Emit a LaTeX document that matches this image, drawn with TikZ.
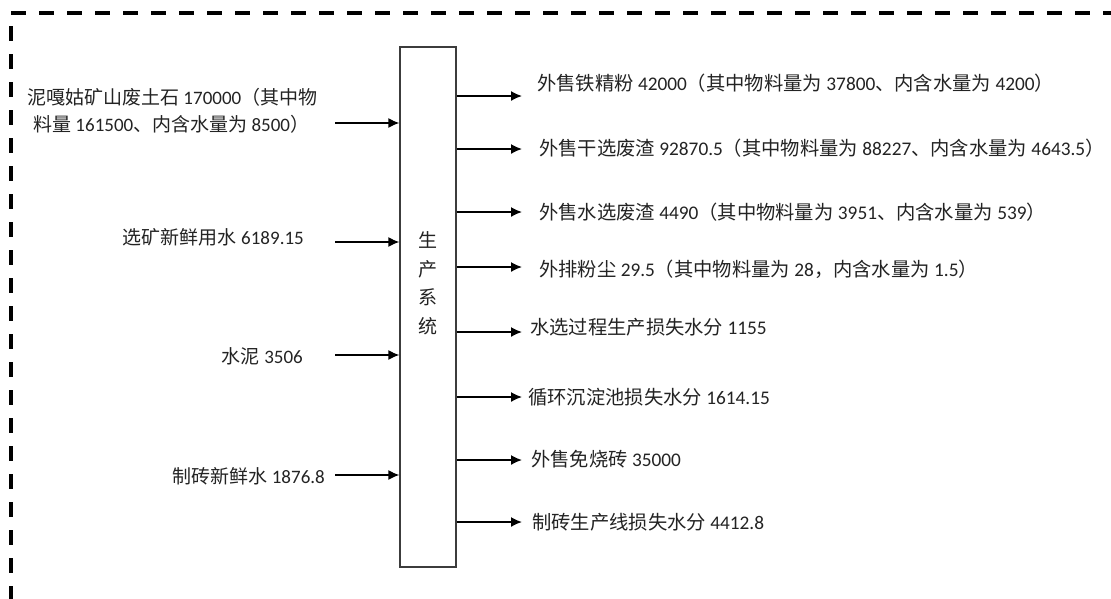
\documentclass[tikz,border=0pt]{standalone}
\usepackage{fontspec}
\setmainfont{Carlito}
\newfontfamily\cjk{Noto Sans CJK SC}
\usetikzlibrary{arrows.meta}
\newcommand{\zh}[1]{{\cjk #1}}
\definecolor{txt}{RGB}{35,35,35}
\definecolor{boxc}{RGB}{60,60,60}
\begin{document}
\begin{tikzpicture}[x=1pt,y=-1pt,
  lbl/.style={inner sep=0pt,text=txt,font=\fontsize{19}{23}\selectfont},
  rlbl/.style={lbl,font=\fontsize{19.3}{23}\selectfont},
  arr/.style={line width=1.6pt,-{Latex[length=11pt,width=10pt]}},
  border/.style={line width=3.8pt,dash pattern=on 15pt off 13pt,line cap=butt},
  sysbox/.style={draw=boxc,line width=1.2pt,minimum width=56pt,minimum height=520pt,inner sep=0pt}]
\useasboundingbox (0,0) rectangle (1111,598);
\fill[white] (0,0) rectangle (1111,598);
% dashed border
\coordinate (bt0) at (11,13);
\coordinate (bt1) at (1125,13);
\coordinate (bl0) at (11,26);
\coordinate (bl1) at (11,615);
\draw[border] (bt0) -- (bt1);
\draw[border] (bl0) -- (bl1);
% system box
\node[sysbox] (sys) at (428,307) {};
\node[lbl,align=center,font=\fontsize{19}{28.5}\selectfont\cjk] (systxt) at (428,283) {生\\产\\系\\统};
% inputs
\node[lbl,anchor=base west] (in1a) at (27,104) {\zh{泥嘎姑矿山废土石} 170000\zh{（其中物}};
\node[lbl,anchor=base west] (in1b) at (27,131) {\hspace*{6pt}\zh{料量} 161500\zh{、内含水量为} 8500\zh{）}};
\node[lbl,anchor=base east] (in2) at (304,244) {\zh{选矿新鲜用水} 6189.15};
\node[lbl,anchor=base east] (in3) at (303,363) {\zh{水泥} 3506};
\node[lbl,anchor=base east] (in4) at (325,483) {\zh{制砖新鲜水} 1876.8};
\coordinate (i1) at (335,123);
\coordinate (i2) at (335,242);
\coordinate (i3) at (335,355);
\coordinate (i4) at (335,475);
\foreach \i in {1,2,3,4}{\draw[arr] (i\i) -- (i\i -| sys.west);}
% outputs
\coordinate (o1) at (522,96);
\coordinate (o2) at (522,149);
\coordinate (o3) at (522,212);
\coordinate (o4) at (522,267);
\coordinate (o5) at (522,332);
\coordinate (o6) at (522,397);
\coordinate (o7) at (522,460);
\coordinate (o8) at (522,522);
\foreach \i in {1,...,8}{\draw[arr] (o\i -| sys.east) -- (o\i);}
\node[rlbl,anchor=base west] (out1) at (537,90) {\zh{外售铁精粉} 42000\zh{（其中物料量为} 37800\zh{、内含水量为} 4200\zh{）}};
\node[rlbl,anchor=base west] (out2) at (539,155) {\zh{外售干选废渣} 92870.5\zh{（其中物料量为} 88227\zh{、内含水量为} 4643.5\zh{）}};
\node[rlbl,anchor=base west] (out3) at (539,219) {\zh{外售水选废渣} 4490\zh{（其中物料量为} 3951\zh{、内含水量为} 539\zh{）}};
\node[rlbl,anchor=base west] (out4) at (539,276) {\zh{外排粉尘} 29.5\zh{（其中物料量为} 28\zh{，内含水量为} 1.5\zh{）}};
\node[rlbl,anchor=base west] (out5) at (530,334) {\zh{水选过程生产损失水分} 1155};
\node[rlbl,anchor=base west] (out6) at (528,404) {\zh{循环沉淀池损失水分} 1614.15};
\node[rlbl,anchor=base west] (out7) at (531,466) {\zh{外售免烧砖} 35000};
\node[rlbl,anchor=base west] (out8) at (532,529) {\zh{制砖生产线损失水分} 4412.8};
\end{tikzpicture}
\end{document}
